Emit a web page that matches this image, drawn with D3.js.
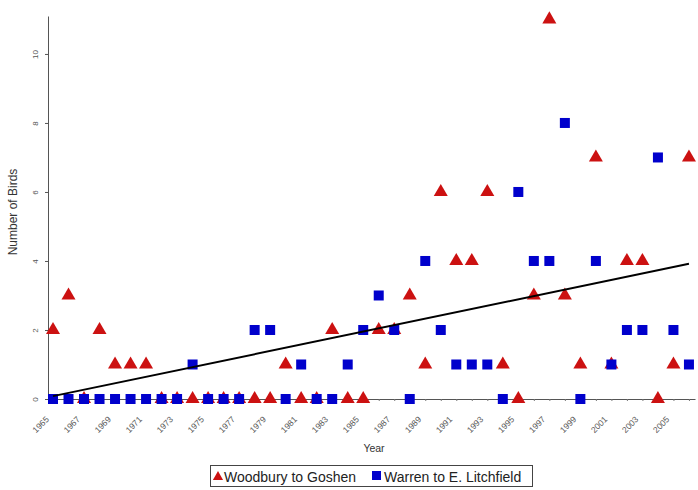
<!DOCTYPE html>
<html>
<head>
<meta charset="utf-8">
<script src="https://cdn.jsdelivr.net/npm/d3@7"></script>
<style>
  html, body { margin: 0; padding: 0; background: #fff; }
  svg { display: block; }
</style>
</head>
<body>
<svg id="chart" width="698" height="490"></svg>
<script>
// ---- data ----
const years = d3.range(1965, 2007);
const woodburyToGoshen = [2,3,0,2,1,1,1,0,0,0,0,0,0,0,0,1,0,0,2,0,0,2,2,3,1,6,4,4,6,1,0,3,11,3,1,7,1,4,4,0,1,7];
const warrenToELitchfield = [0,0,0,0,0,0,0,0,0,1,0,0,0,2,2,0,1,0,0,1,2,3,2,0,4,2,1,1,1,0,6,4,4,8,0,4,1,2,2,7,2,1];
const yTicks = [0, 2, 4, 6, 8, 10];
const seriesNames = ["Woodbury to Goshen", "Warren to E. Litchfield"];

// ---- chart ----
const svg = d3.select("#chart");
const x = d3.scaleLinear().domain([1964.678, 2006.39]).range([48, 695]);
const y = d3.scaleLinear().domain([0, 11.1]).range([399, 16]);

// y axis
const yAxis = svg.append("g").attr("transform", "translate(48,0)")
  .call(d3.axisLeft(y).tickValues(yTicks).tickSize(3).tickSizeOuter(0));
yAxis.select(".domain").attr("stroke", "#555");
yAxis.selectAll(".tick line").attr("stroke", "#555");
yAxis.selectAll(".tick text")
  .attr("fill", "#555").attr("font-family", "Liberation Sans, Arial, sans-serif").attr("font-size", 8)
  .attr("x", 0).attr("dy", 0).attr("text-anchor", "middle")
  .attr("transform", "translate(-10,0) rotate(-90)");

// x axis
const xAxis = svg.append("g").attr("transform", "translate(0,399)")
  .call(d3.axisBottom(x).tickValues(years).tickSize(2).tickSizeOuter(0)
    .tickFormat((d, i) => i % 2 === 0 ? String(d) : ""));
xAxis.select(".domain").attr("stroke", "#555");
xAxis.selectAll(".tick line").attr("stroke", "#777");
xAxis.selectAll(".tick text")
  .attr("fill", "#555").attr("font-family", "Liberation Sans, Arial, sans-serif").attr("font-size", 8.5)
  .attr("y", 0).attr("dy", 0).attr("text-anchor", "end")
  .attr("transform", "translate(-4,21) rotate(-45)");

// axis titles
svg.append("text").attr("x", 374).attr("y", 452).attr("text-anchor", "middle")
  .attr("font-family", "Liberation Sans, Arial, sans-serif").attr("font-size", 10.5).attr("fill", "#333")
  .text("Year");
svg.append("text").attr("transform", "translate(17,212) rotate(-90)").attr("text-anchor", "middle")
  .attr("font-family", "Liberation Sans, Arial, sans-serif").attr("font-size", 12).attr("fill", "#333")
  .text("Number of Birds");

const red = "#cc1111", blue = "#0000cc";
const tri = d3.symbol().type(d3.symbolTriangle).size(85);

// red triangles
svg.append("g").selectAll("path").data(woodburyToGoshen).join("path")
  .attr("d", tri)
  .attr("transform", (d, i) => `translate(${x(years[i])},${y(d)})`)
  .attr("fill", red);

// blue squares
svg.append("g").selectAll("rect").data(warrenToELitchfield).join("rect")
  .attr("x", (d, i) => x(years[i]) - 5).attr("y", d => y(d) - 5)
  .attr("width", 10).attr("height", 10).attr("fill", blue);

// linear trend of Woodbury to Goshen
const n = years.length;
const mx = d3.mean(years), my = d3.mean(woodburyToGoshen);
let sxy = 0, sxx = 0;
years.forEach((yr, i) => { sxy += (yr - mx) * (woodburyToGoshen[i] - my); sxx += (yr - mx) ** 2; });
const slope = sxy / sxx, icpt = my - slope * mx;
const x0 = years[0], x1 = years[n - 1];
svg.append("line")
  .attr("x1", x(x0)).attr("y1", y(icpt + slope * x0))
  .attr("x2", x(x1)).attr("y2", y(icpt + slope * x1))
  .attr("stroke", "#000").attr("stroke-width", 2);

// legend
const lg = svg.append("g");
lg.append("rect").attr("x", 210.5).attr("y", 465.5).attr("width", 322).attr("height", 21)
  .attr("fill", "#fff").attr("stroke", "#444").attr("stroke-width", 1);
lg.append("path").attr("d", d3.symbol().type(d3.symbolTriangle).size(45))
  .attr("transform", "translate(218,477)").attr("fill", red);
lg.append("text").attr("x", 224).attr("y", 481.5)
  .attr("font-family", "Liberation Sans, Arial, sans-serif").attr("font-size", 14).attr("fill", "#222")
  .text(seriesNames[0]);
lg.append("rect").attr("x", 372).attr("y", 471).attr("width", 9).attr("height", 9).attr("fill", blue);
lg.append("text").attr("x", 384).attr("y", 481.5)
  .attr("font-family", "Liberation Sans, Arial, sans-serif").attr("font-size", 14).attr("fill", "#222")
  .text(seriesNames[1]);
</script>
</body>
</html>
